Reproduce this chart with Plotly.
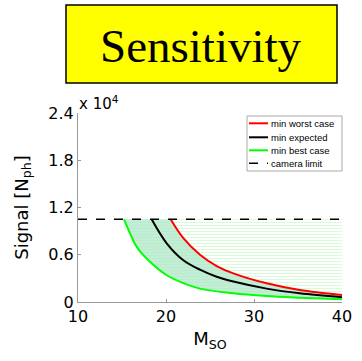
import plotly.graph_objects as go

# ---- data (signal in units of 1e4 photons) ----
camera_limit = 1.05
m_range = [10, 40]

m_green = [15.23, 16.0, 16.67, 18.18, 20.08, 21.97, 23.86, 27.65, 31.44, 35.2, 40.0]
s_green = [1.05, 0.85, 0.70, 0.51, 0.34, 0.24, 0.17, 0.11, 0.076, 0.055, 0.034]

m_black = [18.37, 20.08, 21.97, 23.86, 25.76, 27.65, 31.44, 35.2, 40.0]
s_black = [1.05, 0.745, 0.53, 0.41, 0.32, 0.26, 0.17, 0.11, 0.06]

m_red = [20.53, 21.97, 23.86, 25.76, 27.65, 31.44, 35.2, 40.0]
s_red = [1.05, 0.81, 0.60, 0.457, 0.364, 0.237, 0.152, 0.089]

y_ticks = [0, 0.6, 1.2, 1.8, 2.4]
y_ticktext = ["0", "0.6", "1.2", "1.8", "2.4"]
x_ticks = [10, 20, 30, 40]

legend_names = ["min worst case", "min expected", "min best case", "camera limit"]
legend_colors = ["#ff0000", "#000000", "#00ff00", "#000000"]
legend_dash = ["solid", "solid", "solid", "dash"]

W, H = 362, 361
L, R, T, B = 78, 20, 113, 59
pw, ph = W - L - R, H - T - B
def px(x):
    return (x - L) / pw
def py(y):
    return (H - B - y) / ph

fig = go.Figure()

# teal band between best and worst case
band_x = m_green + m_red[::-1]
band_y = s_green + s_red[::-1]
fig.add_trace(go.Scatter(x=band_x, y=band_y, fill="toself", mode="none",
                         fillcolor="rgba(120,210,170,0.35)",
                         fillpattern=dict(shape="-", size=3, solidity=0.3,
                                          fgcolor="rgba(150,235,170,0.6)",
                                          bgcolor="rgba(190,235,212,0.9)"),
                         showlegend=False, hoverinfo="skip"))
# hatched region above worst case
hx = m_red + [m_range[1], m_red[0]]
hy = s_red + [camera_limit, camera_limit]
fig.add_trace(go.Scatter(x=hx, y=hy, fill="toself", mode="none",
                         fillpattern=dict(shape="-", size=3, solidity=0.35,
                                          fgcolor="rgba(120,240,120,0.6)",
                                          bgcolor="rgba(255,255,255,0)"),
                         showlegend=False, hoverinfo="skip"))

fig.add_trace(go.Scatter(x=m_red, y=s_red, mode="lines", name=legend_names[0],
                         line=dict(color=legend_colors[0], width=2, shape="spline")))
fig.add_trace(go.Scatter(x=m_black, y=s_black, mode="lines", name=legend_names[1],
                         line=dict(color=legend_colors[1], width=2, shape="spline")))
fig.add_trace(go.Scatter(x=m_green, y=s_green, mode="lines", name=legend_names[2],
                         line=dict(color=legend_colors[2], width=2, shape="spline")))
fig.add_trace(go.Scatter(x=m_range, y=[camera_limit, camera_limit], mode="lines",
                         name=legend_names[3],
                         line=dict(color=legend_colors[3], width=1.5, dash="dash")))

font = "DejaVu Sans, Arial, sans-serif"

shapes = [dict(type="rect", xref="paper", yref="paper",
               x0=px(66), x1=px(337), y0=py(83), y1=py(5),
               fillcolor="#ffff00", line=dict(color="#000", width=1.5), layer="above"),
          dict(type="rect", xref="paper", yref="paper",
               x0=px(247), x1=px(342), y0=py(171), y1=py(116),
               fillcolor="white", line=dict(color="#aaa", width=1), layer="above")]
annotations = [
    dict(text="Sensitivity", xref="paper", yref="paper", x=px(201), y=py(46),
         xanchor="center", yanchor="middle", showarrow=False,
         font=dict(size=47, family="Liberation Serif, serif", color="#000")),
    dict(text="x 10<sup>4</sup>", xref="paper", yref="paper", x=px(77), y=py(115),
         xanchor="left", yanchor="bottom", showarrow=False,
         font=dict(size=15, family=font)),
]
row_y = [123.3, 137.3, 150.3, 163.3]
for name, col, dsh, yy in zip(legend_names, legend_colors, legend_dash, row_y):
    shapes.append(dict(type="line", xref="paper", yref="paper",
                       x0=px(249), x1=px(268), y0=py(yy), y1=py(yy),
                       line=dict(color=col, width=2 if dsh == "solid" else 1.5,
                                 dash=dsh), layer="above"))
    annotations.append(dict(text=name, xref="paper", yref="paper", x=px(269), y=py(yy),
                            xanchor="left", yanchor="middle", showarrow=False,
                            font=dict(size=9.5, family="Liberation Sans, Arial", color="#000")))

fig.update_layout(
    width=W, height=H,
    margin=dict(l=L, r=R, t=T, b=B),
    paper_bgcolor="white", plot_bgcolor="white",
    font=dict(family=font, color="#000"),
    showlegend=False,
    xaxis=dict(range=m_range, tickvals=x_ticks, ticks="inside", ticklen=3,
               tickcolor="#999", showline=True, linecolor="#999", linewidth=1,
               showgrid=False, zeroline=False, tickfont=dict(size=16, family=font),
               automargin=False,
               title=dict(text="M<sub>SO</sub>", font=dict(size=18, family=font), standoff=7)),
    yaxis=dict(range=[0, 2.4], tickvals=y_ticks, ticktext=y_ticktext, ticks="inside",
               ticklen=3, tickcolor="#999", showline=True, linecolor="#999", linewidth=1,
               showgrid=False, zeroline=False, tickfont=dict(size=16, family=font),
               automargin=False,
               title=dict(text="Signal [N<sub>ph</sub>]", font=dict(size=18, family=font),
                          standoff=15)),
    shapes=shapes,
    annotations=annotations,
)

fig.write_html("out.html")
